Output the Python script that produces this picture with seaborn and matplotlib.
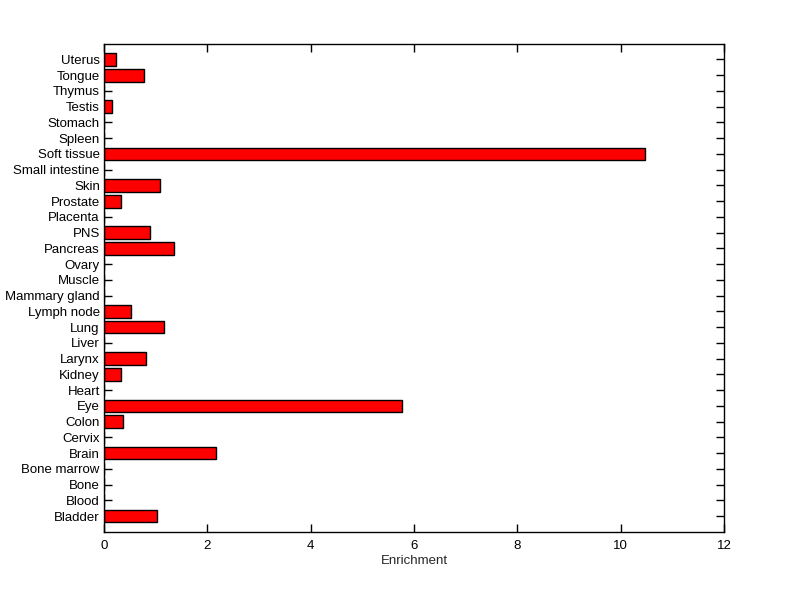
import matplotlib
matplotlib.use("Agg")
import matplotlib.pyplot as plt
import seaborn as sns
import pandas as pd

tissues = ["Uterus", "Tongue", "Thymus", "Testis", "Stomach", "Spleen", "Soft tissue",
           "Small intestine", "Skin", "Prostate", "Placenta", "PNS", "Pancreas", "Ovary",
           "Muscle", "Mammary gland", "Lymph node", "Lung", "Liver", "Larynx", "Kidney",
           "Heart", "Eye", "Colon", "Cervix", "Brain", "Bone marrow", "Bone", "Blood", "Bladder"]
enrichment = [0.23, 0.78, 0.0, 0.16, 0.0, 0.0, 10.47,
              0.0, 1.09, 0.33, 0.0, 0.89, 1.36, 0.0,
              0.0, 0.0, 0.53, 1.16, 0.0, 0.82, 0.32,
              0.0, 5.77, 0.37, 0.0, 2.16, 0.0, 0.0, 0.0, 1.03]
xticks = [0, 2, 4, 6, 8, 10, 12]

df = pd.DataFrame({"tissue": tissues, "enrichment": enrichment})

sns.set_style("white")
plt.rcParams["font.family"] = ["Liberation Sans", "DejaVu Sans"]

fig = plt.figure(figsize=(8, 5.99), dpi=100)
ax = fig.add_axes([0.13, 0.112, 0.775, 0.815])
sns.barplot(data=df, x="enrichment", y="tissue", order=tissues, color="#ff0000",
            saturation=1, width=0.8, edgecolor="black", linewidth=1, ax=ax)

n = len(tissues)
ax.set_ylim(n, -1)
ax.set_xlim(0, 12)
ax.set_xticks(xticks)
ax.set_xticklabels([str(t) for t in xticks])
ax.set_xlabel("Enrichment", fontsize=9.5, labelpad=2)
ax.set_ylabel("")
ax.tick_params(axis="both", direction="in", length=6, width=1, labelsize=9.5,
               top=True, right=True, bottom=True, left=True, colors="black")
ax.tick_params(axis="y", pad=3)
ax.tick_params(axis="x", pad=6)
for s in ax.spines.values():
    s.set_visible(True)
    s.set_color("black")
    s.set_linewidth(1)

fig.savefig("out.png", dpi=100, facecolor="white")
